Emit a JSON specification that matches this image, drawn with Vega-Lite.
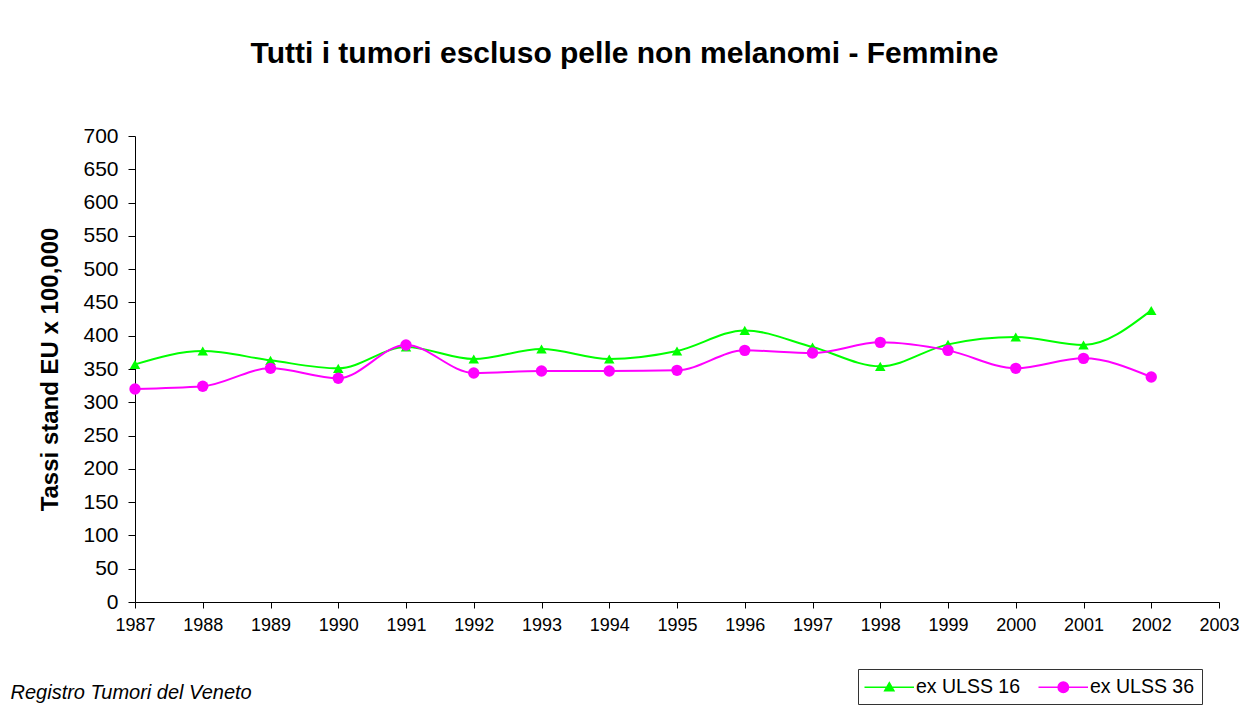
{
  "$schema": "https://vega.github.io/schema/vega-lite/v6.json",
  "width": 1084,
  "height": 466,
  "autosize": "none",
  "padding": {"left": 135, "top": 136, "right": 24, "bottom": 109},
  "background": "white",
  "config": {
    "view": {"stroke": null},
    "font": "Liberation Sans"
  },
  "title": {
    "text": "Tutti i tumori escluso pelle non melanomi - Femmine",
    "font": "Liberation Sans",
    "fontSize": 30,
    "fontWeight": "bold",
    "color": "black",
    "frame": "bounds",
    "anchor": "middle",
    "offset": 56
  },
  "data": {
    "values": [
      {"year": 1987, "series": "ex ULSS 16", "value": 357},
      {"year": 1988, "series": "ex ULSS 16", "value": 377},
      {"year": 1989, "series": "ex ULSS 16", "value": 363},
      {"year": 1990, "series": "ex ULSS 16", "value": 351},
      {"year": 1991, "series": "ex ULSS 16", "value": 383},
      {"year": 1992, "series": "ex ULSS 16", "value": 365},
      {"year": 1993, "series": "ex ULSS 16", "value": 380},
      {"year": 1994, "series": "ex ULSS 16", "value": 365},
      {"year": 1995, "series": "ex ULSS 16", "value": 377},
      {"year": 1996, "series": "ex ULSS 16", "value": 408},
      {"year": 1997, "series": "ex ULSS 16", "value": 383},
      {"year": 1998, "series": "ex ULSS 16", "value": 354},
      {"year": 1999, "series": "ex ULSS 16", "value": 387},
      {"year": 2000, "series": "ex ULSS 16", "value": 398},
      {"year": 2001, "series": "ex ULSS 16", "value": 386},
      {"year": 2002, "series": "ex ULSS 16", "value": 438},
      {"year": 1987, "series": "ex ULSS 36", "value": 320},
      {"year": 1988, "series": "ex ULSS 36", "value": 324},
      {"year": 1989, "series": "ex ULSS 36", "value": 351},
      {"year": 1990, "series": "ex ULSS 36", "value": 336},
      {"year": 1991, "series": "ex ULSS 36", "value": 386},
      {"year": 1992, "series": "ex ULSS 36", "value": 344},
      {"year": 1993, "series": "ex ULSS 36", "value": 347},
      {"year": 1994, "series": "ex ULSS 36", "value": 347},
      {"year": 1995, "series": "ex ULSS 36", "value": 348},
      {"year": 1996, "series": "ex ULSS 36", "value": 378},
      {"year": 1997, "series": "ex ULSS 36", "value": 374},
      {"year": 1998, "series": "ex ULSS 36", "value": 390},
      {"year": 1999, "series": "ex ULSS 36", "value": 378},
      {"year": 2000, "series": "ex ULSS 36", "value": 351},
      {"year": 2001, "series": "ex ULSS 36", "value": 366},
      {"year": 2002, "series": "ex ULSS 36", "value": 338}
    ]
  },
  "encoding": {
    "x": {
      "field": "year",
      "type": "quantitative",
      "scale": {"domain": [1987, 2003], "nice": false, "zero": false},
      "axis": {
        "values": [1987,1988,1989,1990,1991,1992,1993,1994,1995,1996,1997,1998,1999,2000,2001,2002,2003],
        "format": "d",
        "grid": false,
        "domainColor": "black",
        "tickColor": "black",
        "tickSize": 6,
        "labelFont": "Liberation Sans",
        "labelFontSize": 18,
        "labelColor": "black",
        "labelPadding": 8,
        "labelFlush": false,
        "title": "Registro Tumori del Veneto",
        "titleFont": "Liberation Sans",
        "titleFontSize": 20,
        "titleFontStyle": "italic",
        "titleFontWeight": "normal",
        "titleColor": "black",
        "titleAlign": "left",
        "titleAnchor": "start",
        "titleBaseline": "alphabetic",
        "titleX": -125,
        "titleY": 96
      }
    },
    "y": {
      "field": "value",
      "type": "quantitative",
      "scale": {"domain": [0, 700], "nice": false},
      "axis": {
        "values": [0,50,100,150,200,250,300,350,400,450,500,550,600,650,700],
        "grid": false,
        "domainColor": "black",
        "tickColor": "black",
        "tickSize": 7,
        "labelFont": "Liberation Sans",
        "labelFontSize": 21,
        "labelColor": "black",
        "labelPadding": 10,
        "title": "Tassi stand EU x 100,000",
        "titleFont": "Liberation Sans",
        "titleFontSize": 24,
        "titleFontWeight": "bold",
        "titleColor": "black",
        "titlePadding": 20
      }
    },
    "color": {
      "field": "series",
      "type": "nominal",
      "scale": {"domain": ["ex ULSS 16", "ex ULSS 36"], "range": ["#00ff00", "#ff00ff"]},
      "legend": {
        "title": null,
        "orient": "none",
        "legendX": 723,
        "legendY": 533,
        "direction": "horizontal",
        "columns": 2,
        "strokeColor": "#333333",
        "padding": 7,
        "symbolSize": 400,
        "symbolStrokeWidth": 1.5,
        "labelOffset": 29,
        "columnPadding": 14,
        "labelFont": "Liberation Sans",
        "labelFontSize": 19.5,
        "labelColor": "black",
        "encoding": {
          "symbols": {
            "shape": {"value": {"expr": "datum.value === 'ex ULSS 16' ? 'M-1.15,0H3.8M1.33,-0.46L1.79,0.34H0.87Z' : 'M-1.15,0H3.8M0.81,0A0.52,0.52 0 1,0 1.85,0A0.52,0.52 0 1,0 0.81,0Z'"}},
            "fill": {"value": {"expr": "scale('color', datum.value)"}},
            "stroke": {"value": {"expr": "scale('color', datum.value)"}},
            "fillOpacity": {"value": 1},
            "strokeWidth": {"value": 1.5}
          }
        }
      }
    }
  },
  "layer": [
    {
      "mark": {"type": "line", "interpolate": "monotone", "strokeWidth": 2}
    },
    {
      "transform": [{"filter": "datum.series === 'ex ULSS 16'"}],
      "mark": {"type": "point", "filled": true, "opacity": 1, "shape": "triangle-up", "size": 110}
    },
    {
      "transform": [{"filter": "datum.series === 'ex ULSS 36'"}],
      "mark": {"type": "point", "filled": true, "opacity": 1, "shape": "circle", "size": 130}
    }
  ]
}
